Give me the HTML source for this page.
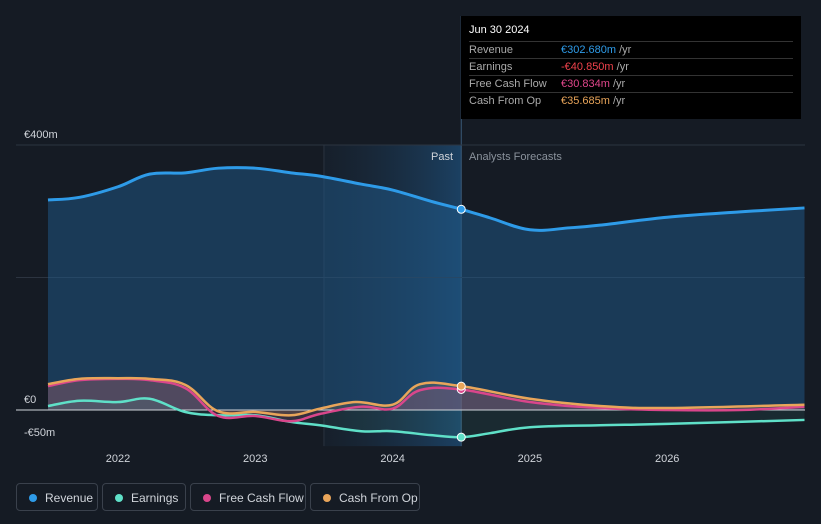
<!DOCTYPE html>
<html><head><meta charset="utf-8"><style>
body{margin:0;background:#151b24;font-family:"Liberation Sans",sans-serif;}
#wrap{position:relative;width:821px;height:524px;overflow:hidden;background:#151b24;}
svg text{font-family:"Liberation Sans",sans-serif;}
.leg{position:absolute;top:483px;height:28px;border:1px solid #3a414c;border-radius:4px;color:#d0d4da;font-size:12px;line-height:28px;box-sizing:border-box;padding-left:28px;}
.leg i{position:absolute;left:12px;top:10px;width:8px;height:8px;border-radius:50%;}
#tip{position:absolute;left:461px;top:16px;width:340px;height:103px;background:#000;color:#fff;font-size:11px;}
#tip .r{position:absolute;left:8px;width:324px;border-top:1px solid #333;height:17px;line-height:17px;color:#aaa;}
#tip .r b{position:absolute;left:92px;font-weight:normal;}
</style></head><body>
<div id="wrap">
<svg id="svg" width="821" height="524"></svg>
<div id="tip">
<div style="position:absolute;left:8px;top:8px;font-size:11px;">Jun 30 2024</div>
<div class="r" style="top:25px">Revenue<b style="color:#2e9be8">€302.680m <span style="color:#aaa">/yr</span></b></div>
<div class="r" style="top:42px">Earnings<b style="color:#f0424c">-€40.850m <span style="color:#aaa">/yr</span></b></div>
<div class="r" style="top:59px">Free Cash Flow<b style="color:#e0468b">€30.834m <span style="color:#aaa">/yr</span></b></div>
<div class="r" style="top:76px">Cash From Op<b style="color:#e9a55a">€35.685m <span style="color:#aaa">/yr</span></b></div>
</div>
<div class="leg" style="left:16px;width:82px"><i style="background:#2e9be8"></i>Revenue</div>
<div class="leg" style="left:102px;width:84px"><i style="background:#5fe0c8"></i>Earnings</div>
<div class="leg" style="left:190px;width:116px"><i style="background:#d9468b"></i>Free Cash Flow</div>
<div class="leg" style="left:310px;width:110px"><i style="background:#e9a55a"></i>Cash From Op</div>
</div>
<script>
const revX=[2021.49,2021.72,2022,2022.23,2022.49,2022.73,2023,2023.26,2023.47,2023.77,2024,2024.28,2024.5,2024.71,2025,2025.29,2025.51,2026,2026.53,2027];
const revY=[317,321,337,356,358,365,365,358,353,341,332,315,303,290,272,275,279,291,299,305];
const earnX=[2021.49,2021.72,2022,2022.23,2022.49,2022.73,2023,2023.26,2023.47,2023.77,2024,2024.28,2024.5,2024.71,2025,2025.51,2026,2027];
const earnY=[6,14,12,17,-3,-8,-8,-18,-23,-32,-32,-38,-41,-35,-26,-23,-21,-15];
const fcfX=[2021.49,2021.72,2022,2022.23,2022.49,2022.73,2023,2023.26,2023.47,2023.77,2024,2024.2,2024.5,2025,2025.51,2026,2026.53,2027];
const fcfY=[36,45,47,45,33,-9,-9,-17,-6,5,2,30,31,12,3,0,0,5];
const cfoX=[2021.49,2021.72,2022,2022.23,2022.49,2022.73,2023,2023.26,2023.47,2023.73,2024,2024.2,2024.5,2025,2025.51,2026,2027];
const cfoY=[39,47,48,47,38,-2,-3,-8,2,12,8,39,36,17,6,3,8];
const xTicks=[2022,2023,2024,2025,2026];
const yTicks=[{v:400,l:"€400m"},{v:0,l:"€0"},{v:-50,l:"-€50m"}];
const X=t=>118+(t-2022)*137.3, Y=v=>410-v*0.6625;
const svg=document.getElementById('svg'),NS='http://www.w3.org/2000/svg';
function mk(tag,a,name){const e=document.createElementNS(NS,tag);for(const k in a)e.setAttribute(k,a[k]);


svg.appendChild(e);return e;}
function path(xs,ys){let p=[];for(let i=0;i<xs.length;i++)p.push([X(xs[i]),Y(ys[i])]);
let d='M'+p[0][0]+','+p[0][1];const k=0.18;
for(let i=1;i<p.length;i++){const a0=p[Math.max(i-2,0)],a=p[i-1],b=p[i],b1=p[Math.min(i+1,p.length-1)];
const c1=[a[0]+(b[0]-a0[0])*k,a[1]+(b[1]-a0[1])*k],c2=[b[0]-(b1[0]-a[0])*k,b[1]-(b1[1]-a[1])*k];
d+=` C${c1[0]},${c1[1]} ${c2[0]},${c2[1]} ${b[0]},${b[1]}`;}return d;}
const defs=mk('defs',{},'defs');
defs.innerHTML='<linearGradient id="hl" x1="0" x2="1"><stop offset="0" stop-color="#1a2a3c" stop-opacity="0.3"/><stop offset="1" stop-color="#1d4a72" stop-opacity="0.8"/></linearGradient>';
mk('rect',{x:X(2023.5),y:Y(400),width:X(2024.5)-X(2023.5),height:Y(-50)-Y(400)+3,fill:'url(#hl)'},'past-highlight');
mk('line',{x1:X(2023.5),x2:X(2023.5),y1:Y(400),y2:Y(-50)+3,stroke:'#2a3340'},'highlight-edge');
mk('line',{x1:X(2024.5),x2:X(2024.5),y1:16,y2:Y(-50)+3,stroke:'#3a5a78'},'today-line');
[400,200].forEach(v=>mk('line',{x1:16,x2:805,y1:Y(v),y2:Y(v),stroke:'#2c3440'},'gridline'));
yTicks.forEach(t=>{const e=mk('text',{x:24,y:Y(t.v)-7,fill:'#d0d4da','font-size':11},'y-tick-label');e.textContent=t.l;});
xTicks.forEach(t=>{const e=mk('text',{x:X(t),y:462,fill:'#d0d4da','font-size':11,'text-anchor':'middle'},'x-tick-label');e.textContent=t;});
let e=mk('text',{x:453,y:160,fill:'#d0d4da','font-size':11,'text-anchor':'end'},'past-label');e.textContent='Past';
e=mk('text',{x:469,y:160,fill:'#8a929c','font-size':11},'forecast-label');e.textContent='Analysts Forecasts';
function area(xs,ys,fill,op,name){mk('path',{d:path(xs,ys)+` L${X(xs[xs.length-1])},${Y(0)} L${X(xs[0])},${Y(0)} Z`,fill:fill,'fill-opacity':op},name);}
area(revX,revY,'#1f5a8a',0.5,'revenue-area');
area(cfoX,cfoY,'#e9a55a',0.15,'cfo-area');
area(fcfX,fcfY,'#d9468b',0.15,'fcf-area');
area(earnX,earnY,'#5fe0c8',0.08,'earnings-area');
mk('line',{x1:16,x2:805,y1:Y(0),y2:Y(0),stroke:'#d0d4da','stroke-width':1},'zero-line');
mk('path',{d:path(earnX,earnY),fill:'none',stroke:'#5fe0c8','stroke-width':2.5},'earnings-line');
mk('path',{d:path(fcfX,fcfY),fill:'none',stroke:'#d9468b','stroke-width':2.5},'fcf-line');
mk('path',{d:path(cfoX,cfoY),fill:'none',stroke:'#e9a55a','stroke-width':2.5},'cfo-line');
mk('path',{d:path(revX,revY),fill:'none',stroke:'#2e9be8','stroke-width':3},'revenue-line');
[[revY[12],'#2e9be8','revenue-dot'],[earnY[12],'#5fe0c8','earnings-dot'],[fcfY[12],'#d9468b','fcf-dot'],[cfoY[12],'#e9a55a','cfo-dot']].forEach(d=>mk('circle',{cx:X(2024.5),cy:Y(d[0]),r:4,fill:d[1],stroke:'#fff','stroke-width':1},d[2]));
</script></body></html>
